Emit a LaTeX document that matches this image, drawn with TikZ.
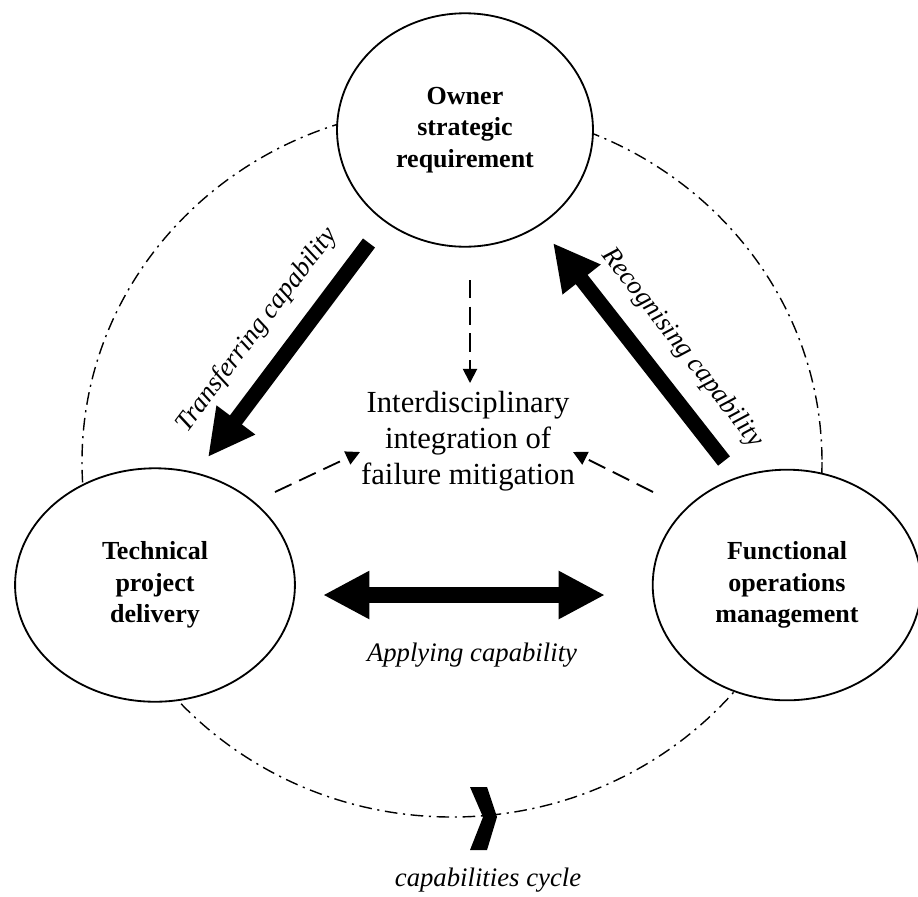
\documentclass[tikz,border=0pt]{standalone}
\usepackage{fontspec}
\setmainfont{Liberation Serif}
\usetikzlibrary{shapes.geometric,arrows.meta}

\begin{document}
\begin{tikzpicture}[x=0.025cm, y=-0.025cm,
  stage/.style={ellipse, draw, line width=1.3pt, fill=white, inner sep=0pt,
    align=center, font=\bfseries\fontsize{18.5}{22.4}\selectfont},
  flow/.style={line width=10.7pt, -{Triangle[length=33pt,width=32pt]}},
  feed/.style={line width=1.3pt, dash pattern=on 13pt off 6pt,
    -{Triangle[length=10pt,width=10pt]}},
  loopline/.style={line width=1pt, dash pattern=on 9pt off 4pt on 1.5pt off 4pt},
  lbl/.style={font=\itshape\fontsize{19}{22}\selectfont}]
  \useasboundingbox (0,0) rectangle (918,896);
  % Capabilities cycle
  \draw[loopline] (452,462) ellipse [x radius=370, y radius=355];
  \fill (470,787) -- (487,787) -- (497,817) -- (487,850) -- (470,850) -- (483,817) -- cycle;
  \node[lbl] (cyclelbl) at (488,880) {capabilities cycle};
  % Stakeholders
  \node[stage, minimum width=182pt, minimum height=166pt] (owner) at (465,130)
    {Owner\\strategic\\requirement};
  \node[stage, minimum width=199pt, minimum height=166pt] (tech) at (155,585)
    {Technical\\project\\delivery};
  \node[stage, minimum width=191pt, minimum height=164pt] (func) at (787,585)
    {Functional\\operations\\management};
  % Centre
  \node[align=center, font=\fontsize{21.8}{25.6}\selectfont] (core) at (468,441)
    {Interdisciplinary\\integration of\\failure mitigation};
  % Arrow ends
  \coordinate (tA) at (369,243);
  \coordinate (tB) at (208,457);
  \coordinate (rA) at (724,461);
  \coordinate (rB) at (553,243);
  \coordinate (aL) at (323,595);
  \coordinate (aR) at (605,595);
  \coordinate (fO) at (470,280);
  \coordinate (fT) at (275,492);
  \coordinate (fF) at (653,492);
  \coordinate (cO) at (470,383);
  \coordinate (cT) at (360,452);
  \coordinate (cF) at (573,452);
  % Capability flows
  \draw[flow] (tA) -- (tB);
  \draw[flow] (rA) -- (rB);
  \draw[flow, {Triangle[length=33pt,width=32pt]}-{Triangle[length=33pt,width=32pt]}] (aL) -- (aR);
  \node[lbl, rotate=52.9] (translbl) at (257,330) {Transferring capability};
  \node[lbl, rotate=-51.9] (recoglbl) at (682,348) {Recognising capability};
  \node[lbl] (applylbl) at (472,655) {Applying capability};
  % Feeds into centre
  \draw[feed] (fO) -- (cO);
  \draw[feed] (fT) -- (cT);
  \draw[feed] (fF) -- (cF);
\end{tikzpicture}
\end{document}
